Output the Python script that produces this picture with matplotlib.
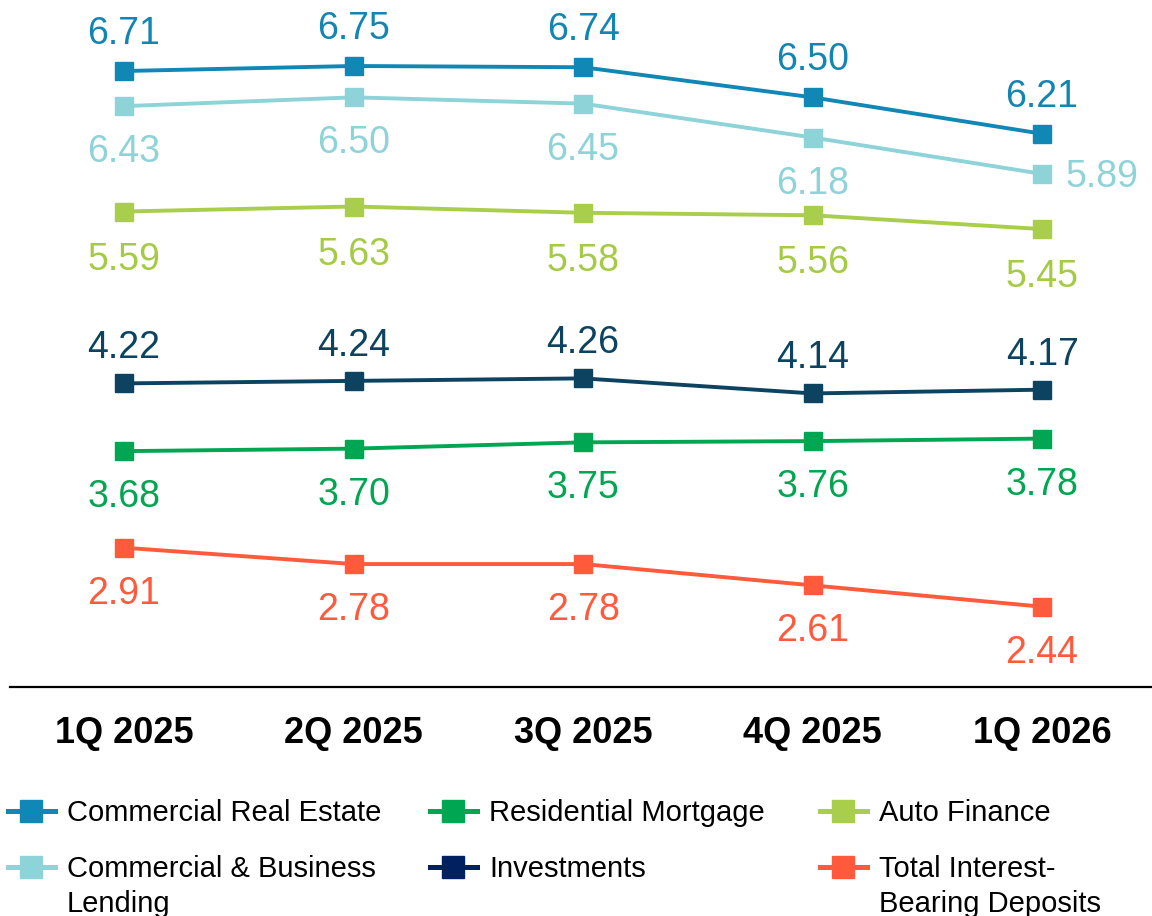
import matplotlib
matplotlib.use("Agg")
import matplotlib.pyplot as plt
from matplotlib.lines import Line2D

plt.rcParams['font.family'] = ['Liberation Sans', 'DejaVu Sans']

quarters = ["1Q 2025", "2Q 2025", "3Q 2025", "4Q 2025", "1Q 2026"]
commercial_real_estate = [6.71, 6.75, 6.74, 6.50, 6.21]
commercial_business_lending = [6.43, 6.50, 6.45, 6.18, 5.89]
auto_finance = [5.59, 5.63, 5.58, 5.56, 5.45]
investments = [4.22, 4.24, 4.26, 4.14, 4.17]
residential_mortgage = [3.68, 3.70, 3.75, 3.76, 3.78]
total_deposits = [2.91, 2.78, 2.78, 2.61, 2.44]

series_names = ["Commercial Real Estate", "Commercial & Business\nLending",
                "Residential Mortgage", "Investments",
                "Auto Finance", "Total Interest-\nBearing Deposits"]

# (values, line colour, label colour, legend colour, label offset px (dy))
series = [
    (commercial_real_estate, "#1187B5", "#1385B3", "#1187B5", -37),
    (commercial_business_lending, "#8DD3D8", "#8ED3D8", "#8DD3D8", 46),
    (auto_finance, "#A8CE4B", "#A5CB45", "#A8CE4B", 48),
    (investments, "#0C4360", "#0C4360", "#002060", -35),
    (residential_mortgage, "#00A651", "#00A651", "#00A651", 46),
    (total_deposits, "#FF5A3C", "#FF5A3C", "#FF5A3C", 46),
]

fig = plt.figure(figsize=(11.52, 9.16), dpi=100)
ax = fig.add_axes([10/1152, (916-687)/916, 1-10/1152, 687/916])
x = list(range(len(quarters)))

for vals, lc, tc, _, dy in series:
    ax.plot(x, vals, color=lc, lw=2.8, marker="s", ms=13.5, mec=lc, mfc=lc, zorder=3)
    for i, v in enumerate(vals):
        ox, oy = 0, -dy
        if vals is commercial_business_lending and i == len(vals) - 1:
            ox, oy = 60, -3
        ax.annotate(f"{v:.2f}", (i, v), xytext=(ox*0.72, oy*0.72), textcoords="offset points",
                    ha="center", va="center", fontsize=27, color=tc)

ax.set_xlim(-0.497, 4.479)
ax.set_ylim(1.80, 7.276)
for s in ["top", "right", "left"]:
    ax.spines[s].set_visible(False)
ax.spines["bottom"].set_linewidth(1.6)
ax.spines["bottom"].set_color("black")
ax.set_yticks([])
ax.set_xticks(x)
ax.set_xticklabels(quarters, fontsize=26, fontweight="bold")
ax.tick_params(axis="x", length=0, pad=21)

# legend
legend_order = [0, 1, 4, 3, 2, 5]  # CRE, CBL, RM, Inv, Auto, Dep
legend_pos = [(8, 811), (8, 867), (430, 811), (430, 867), (820, 811), (820, 867)]
W, H = 1152, 916
for k, (px, py) in enumerate(legend_pos):
    idx = legend_order[k]
    col = series[idx][3]
    name = series_names[k]
    fig.add_artist(Line2D([px/W, (px+47)/W], [1-py/H, 1-py/H], color=col, lw=3.6,
                          transform=fig.transFigure))
    fig.add_artist(Line2D([(px+23)/W], [1-py/H], color=col, marker="s", ms=16,
                          mec=col, mfc=col, transform=fig.transFigure))
    fig.text((px+59)/W, 1-(py-12)/H, name, fontsize=21, color="black",
             ha="left", va="top", linespacing=1.33)

fig.savefig("out.png", dpi=100)
